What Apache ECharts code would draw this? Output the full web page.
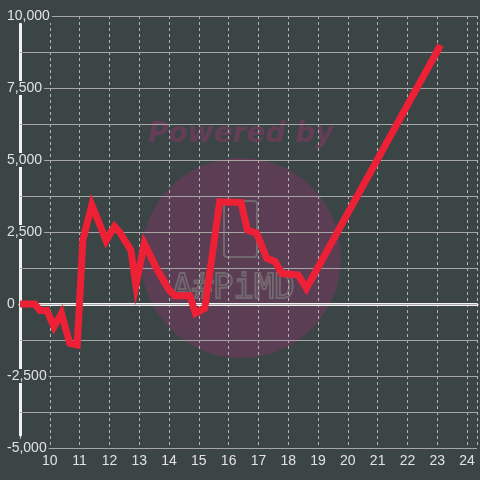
<!DOCTYPE html>
<html>
<head>
<meta charset="utf-8">
<script src="https://cdn.jsdelivr.net/npm/echarts@6/dist/echarts.min.js"></script>
<style>
  html, body { margin: 0; padding: 0; background: #3c4545; }
  #chart { width: 480px; height: 480px; }
</style>
</head>
<body>
<div id="chart"></div>
<script>
// line points (x, y)
const xs = [9, 9.5, 9.67, 9.9, 10.14, 10.39, 10.67, 10.92, 11.11, 11.41, 11.89, 12.17, 12.33, 12.72, 12.89, 13.17, 13.61, 14.0, 14.2, 14.7, 14.89, 15.2, 15.7, 16.42, 16.63, 16.94, 17.28, 17.56, 17.78, 18.33, 18.61, 23.11];
const ys = [0, 0, -230, -230, -790, -325, -1365, -1420, 2220, 3440, 2200, 2690, 2510, 1875, 660, 2100, 1180, 490, 290, 290, -320, -150, 3550, 3520, 2570, 2455, 1585, 1470, 1065, 1007, 545, 8990];
// axis settings
const xRange = [9, 24.3333];
const yRange = [-5000, 10000];
const yStep = 2500;

const labelColor = "#e2e2e2";
const bg = "#3c4545";
const font = "Liberation Sans";

const chart = echarts.init(document.getElementById("chart"));
chart.setOption({
  backgroundColor: bg,
  animation: false,
  textStyle: { fontFamily: font },
  grid: [
    { left: 20, right: 0, top: 16, bottom: 32 },
    // only carries the short white y axis line
    { left: 20, width: 1, top: 24, bottom: 45 }
  ],
  graphic: [
    {
      type: "circle",
      z: -1,
      shape: { cx: 241, cy: 258, r: 100 },
      style: { fill: "rgba(160,50,115,0.32)" }
    },
    {
      type: "text",
      z: -1,
      x: 148,
      y: 121,
      style: {
        text: "Powered by",
        fontSize: 28,
        fontWeight: "bold",
        fontStyle: "italic",
        fontFamily: "DejaVu Sans",
        fill: "rgba(160,50,115,0.4)"
      }
    },
    {
      type: "rect",
      z: -1,
      shape: { x: 224, y: 201, width: 33, height: 56, r: 3 },
      style: { fill: "none", stroke: "rgba(130,130,130,0.6)", lineWidth: 2 }
    },
    {
      type: "text",
      z: -1,
      x: 172,
      y: 272,
      style: {
        text: "A#PiMD",
        fontSize: 34,
        fontFamily: "DejaVu Sans Mono",
        fill: "none",
        stroke: "rgba(130,130,130,0.6)",
        lineWidth: 2
      }
    }
  ],
  xAxis: [
    {
      type: "value",
      gridIndex: 0,
      min: xRange[0],
      max: xRange[1],
      interval: 1,
      axisLine: { show: false },
      axisTick: { show: false },
      axisLabel: {
        color: labelColor,
        fontSize: 14,
        margin: 6,
        formatter: v => (Number.isInteger(v) && v > xRange[0] ? String(v) : "")
      },
      splitLine: {
        show: true,
        lineStyle: { color: "#b4b4b4", width: 1, type: [3, 3] }
      }
    },
    {
      // white zero line
      type: "value",
      gridIndex: 0,
      min: xRange[0],
      max: xRange[1],
      axisLine: {
        show: true,
        onZero: true,
        onZeroAxisIndex: 0,
        lineStyle: { color: "#f2f2f2", width: 3 }
      },
      axisTick: { show: false },
      axisLabel: { show: false },
      splitLine: { show: false }
    },
    { type: "value", gridIndex: 1, show: false }
  ],
  yAxis: [
    {
      type: "value",
      gridIndex: 0,
      z: 3,
      min: yRange[0],
      max: yRange[1],
      interval: yStep,
      minorTick: { show: false, splitNumber: 2 },
      minorSplitLine: {
        show: true,
        lineStyle: { color: "#a6a6a6", width: 1 }
      },
      axisLine: { show: false },
      axisTick: { show: false },
      axisLabel: {
        color: labelColor,
        fontSize: 14,
        align: "left",
        margin: 13,
        backgroundColor: bg,
        padding: [0, 2, 0, 0],
        formatter: v => v.toLocaleString("en-US")
      },
      splitLine: {
        show: true,
        lineStyle: { color: "#a6a6a6", width: 1 }
      }
    },
    {
      type: "value",
      gridIndex: 1,
      z: 1,
      axisLine: { show: true, lineStyle: { color: "#f2f2f2", width: 3 } },
      axisTick: { show: false },
      axisLabel: { show: false },
      splitLine: { show: false }
    }
  ],
  series: [
    {
      type: "line",
      xAxisIndex: 0,
      yAxisIndex: 0,
      z: 4,
      showSymbol: false,
      data: xs.map((x, i) => [x, ys[i]]),
      lineStyle: { color: "#ee2036", width: 7, join: "miter" }
    }
  ]
});
</script>
</body>
</html>
